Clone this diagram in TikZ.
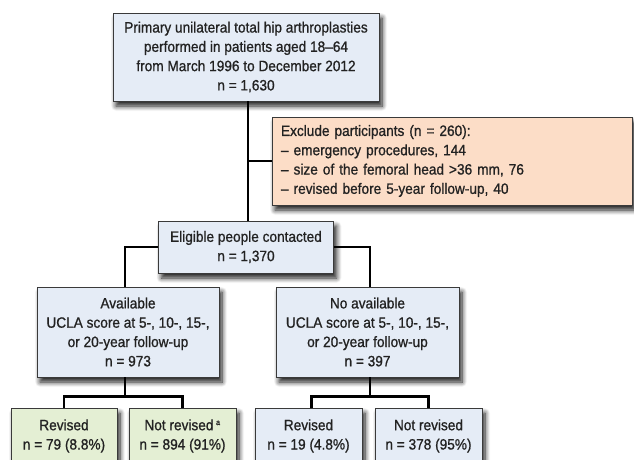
\documentclass[tikz,border=0pt]{standalone}
\usepackage{fontspec}
\setmainfont[FakeStretch=0.91,FakeBold=0.9]{Liberation Sans}
\usetikzlibrary{shadows.blur}
\definecolor{boxblue}{HTML}{E5ECF6}
\definecolor{boxgreen}{HTML}{E4EFD4}
\definecolor{boxorange}{HTML}{FCDDC7}
\definecolor{boxline}{HTML}{3A3A3A}
\definecolor{txt}{HTML}{222222}
\begin{document}
\begin{tikzpicture}[x=1pt,y=-1pt,
  box/.style={draw=boxline, line width=0.9pt, fill=boxblue, align=center, text=txt,
    inner sep=0pt, font=\fontsize{15}{19.3}\selectfont,
    blur shadow={shadow xshift=3pt, shadow yshift=-5pt, shadow blur steps=8, shadow blur radius=5pt, shadow opacity=90}},
  link/.style={line width=2.4pt, black}]
\useasboundingbox (0,0) rectangle (634,459);
\clip (0,0) rectangle (634,459);
\node[box, minimum width=266pt, minimum height=88pt] (top) at (246,57)
  {Primary unilateral total hip arthroplasties\\performed in patients aged 18–64\\from March 1996 to December 2012\\n = 1,630};
\node[box, fill=boxorange, minimum width=360pt, minimum height=88pt, align=left,
  text width=342pt] (excl) at (452,161)
  {Exclude participants (n = 260):\\– emergency procedures, 144\\– size of the femoral head >36 mm, 76\\– revised before 5-year follow-up, 40};
\node[box, minimum width=175pt, minimum height=52pt] (elig) at (246,247)
  {Eligible people contacted\\n = 1,370};
\node[box, minimum width=182pt, minimum height=90pt] (avail) at (128,332)
  {Available\\UCLA score at 5-, 10-, 15-,\\or 20-year follow-up\\n = 973};
\node[box, minimum width=183pt, minimum height=90pt] (noav) at (367.5,332)
  {No available\\UCLA score at 5-, 10-, 15-,\\or 20-year follow-up\\n = 397};
\node[box, fill=boxgreen, minimum width=106pt, minimum height=56pt] (rev1) at (64,436)
  {Revised\\n = 79 (8.8\%)};
\node[box, fill=boxgreen, minimum width=107pt, minimum height=56pt] (nrev1) at (182.5,436)
  {Not revised\,\textsuperscript{\fontsize{8}{8}\selectfont a}\\n = 894 (91\%)};
\node[box, minimum width=107pt, minimum height=56pt] (rev2) at (308.5,436)
  {Revised\\n = 19 (4.8\%)};
\node[box, minimum width=107pt, minimum height=56pt] (nrev2) at (428.5,436)
  {Not revised\\n = 378 (95\%)};
\coordinate (j0) at ([xshift=2pt]top.south);
\coordinate (j1) at ([yshift=-19pt]avail.south);
\coordinate (j2) at ([yshift=-19pt]noav.south);
\draw[link] (j0) -- (j0 |- elig.north);
\draw[link] (j0 |- excl.west) -- (excl.west);
\draw[link] (elig.west) -| ([xshift=-3pt]avail.north);
\draw[link] (elig.east) -| ([xshift=2.5pt]noav.north);
\draw[link] ([xshift=-3pt]avail.south) -- ([xshift=-3pt]j1);
\draw[link] (rev1.north) |- ([xshift=-3pt]j1) -| (nrev1.north);
\draw[link] ([xshift=2.5pt]noav.south) -- ([xshift=2.5pt]j2);
\draw[link] ([xshift=3pt]rev2.north) |- ([xshift=2.5pt]j2) -| (nrev2.north);
\end{tikzpicture}
\end{document}
